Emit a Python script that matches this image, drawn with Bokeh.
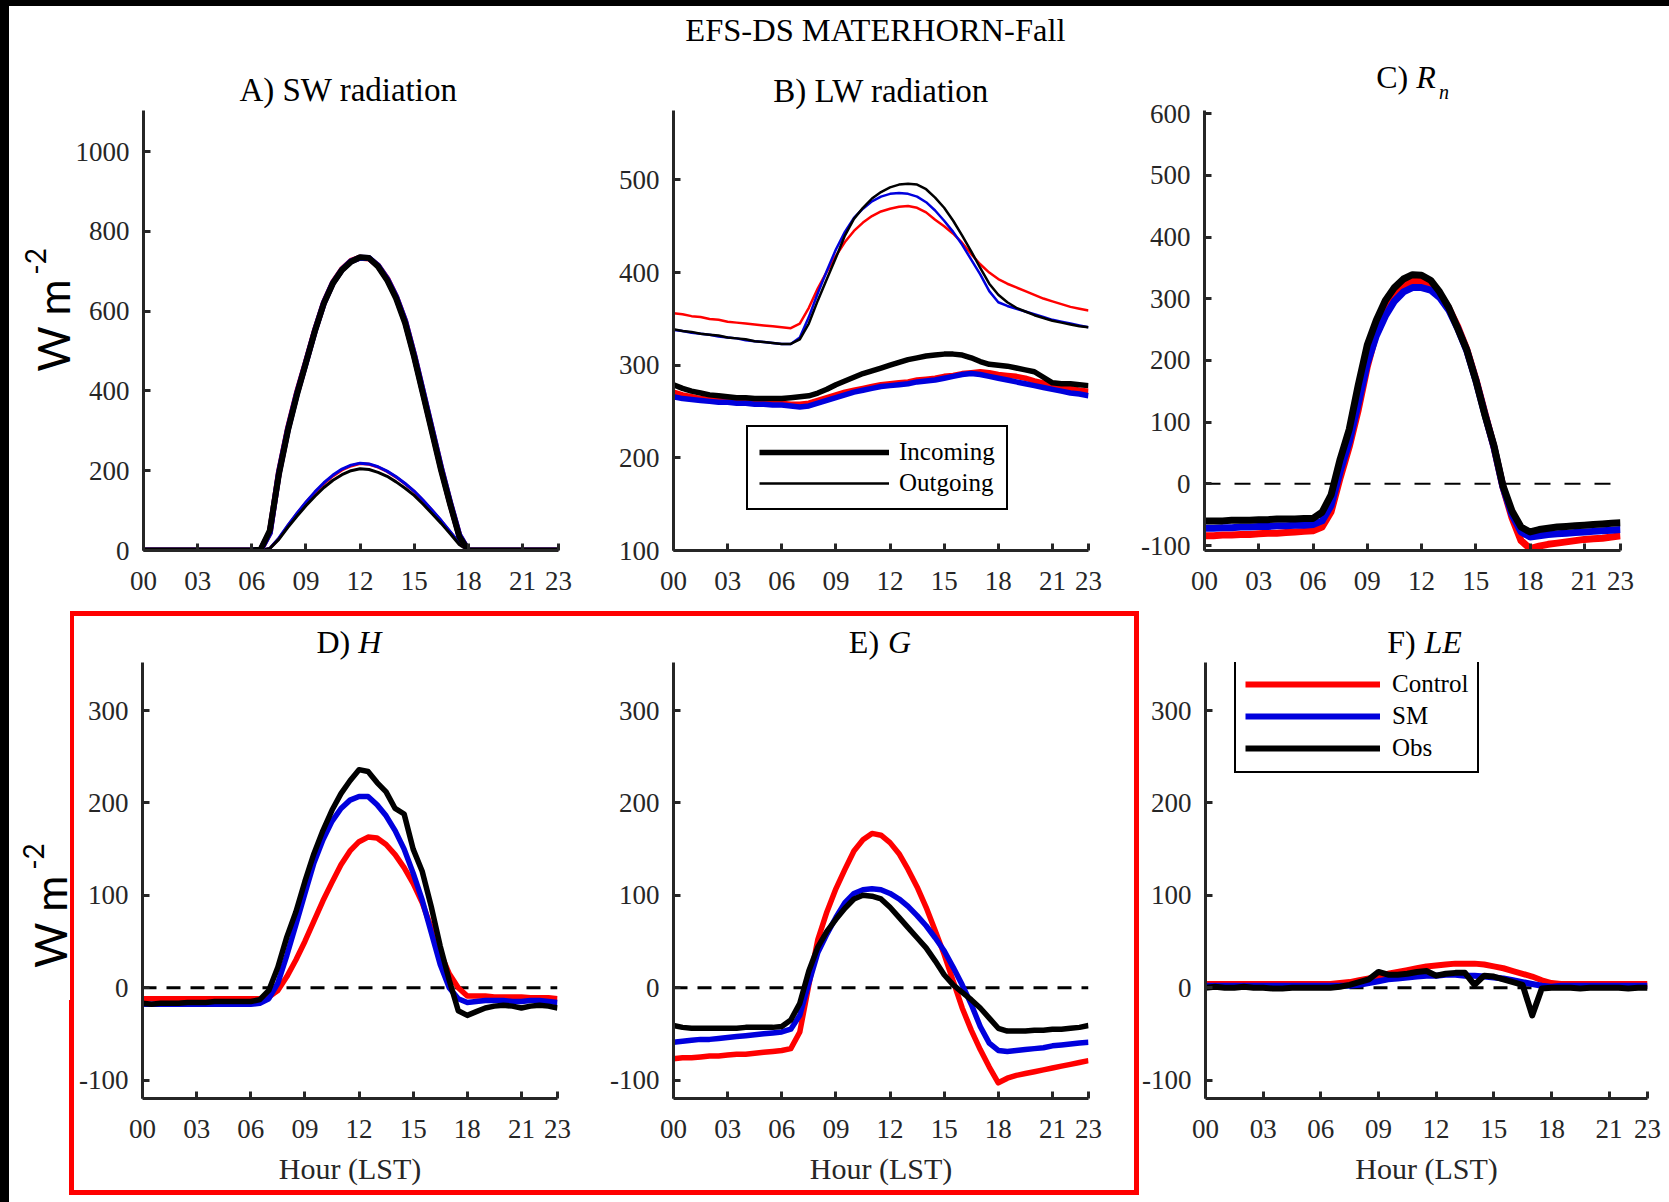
import math

from bokeh.core.properties import value
from bokeh.embed import file_html
from bokeh.layouts import column, row
from bokeh.models import (Div, FixedTicker, Legend, LegendItem,
                          PrintfTickFormatter, Range1d, Span)
from bokeh.plotting import figure
from bokeh.resources import INLINE

# ---------------------------------------------------------------------------
# Mean diurnal cycles, half-hourly from 00 to 23 LST (W m-2)
# ---------------------------------------------------------------------------
HOURS = [i / 2 for i in range(47)]
X_TICKS = [0, 3, 6, 9, 12, 15, 18, 21, 23]

# A) shortwave radiation: incoming (thick) and outgoing (thin)
SW_IN_CONTROL = [0] * 13 + [2, 45, 195, 305, 395, 472, 552, 622, 672, 705, 726, 734, 732, 714, 682,
                            636, 575, 490, 395, 300, 205, 118, 38, 0] + [0] * 10
SW_IN_SM = [0] * 13 + [2, 44, 194, 303, 393, 471, 551, 621, 671, 704, 725, 734, 733, 714, 681,
                       636, 575, 490, 396, 301, 206, 119, 39, 0] + [0] * 10
SW_IN_OBS = [0] * 13 + [3, 50, 190, 300, 390, 470, 550, 620, 670, 703, 724, 735, 733, 712, 678,
                        632, 570, 485, 390, 295, 200, 115, 35, 0] + [0] * 10
SW_OUT_CONTROL = [0] * 14 + [5, 30, 62, 92, 120, 145, 168, 187, 202, 212, 218, 216, 209, 198, 184,
                             167, 148, 125, 100, 74, 46, 18, 0] + [0] * 10
SW_OUT_SM = [0] * 14 + [5, 31, 63, 93, 121, 147, 170, 189, 204, 214, 219, 217, 210, 199, 185,
                        168, 149, 126, 101, 75, 47, 19, 0] + [0] * 10
SW_OUT_OBS = [0] * 14 + [5, 28, 58, 86, 112, 136, 158, 176, 190, 200, 205, 203, 196, 186, 172,
                         156, 138, 116, 92, 68, 42, 15, 0] + [0] * 10

# B) longwave radiation
LW_OUT_CONTROL = [356, 355, 353, 352, 350, 349, 347, 346, 345, 344, 343, 342, 341, 340,
                  345, 362, 383, 401, 418, 433, 445, 454, 461, 466, 469, 471, 472, 470, 465, 457,
                  450, 442, 432, 420, 409, 400, 393, 388, 384, 380, 376, 372, 369, 366, 363, 361, 359]
LW_OUT_SM = [338, 337, 335, 334, 333, 331, 330, 329, 327, 326, 325, 324, 323, 323,
             330, 352, 378, 402, 425, 444, 459, 469, 477, 482, 485, 486, 485, 482, 476, 467,
             456, 444, 430, 414, 398, 380, 368, 364, 361, 358, 355, 352, 349, 347, 345, 343, 341]
LW_OUT_OBS = [339, 337, 336, 334, 333, 332, 330, 329, 328, 326, 325, 324, 323, 323,
              328, 345, 370, 393, 416, 440, 458, 470, 480, 487, 492, 495, 496, 495, 490, 481,
              470, 456, 440, 423, 405, 388, 376, 368, 362, 358, 354, 351, 348, 346, 344, 342, 341]
LW_IN_CONTROL = [271, 268, 266, 264, 263, 262, 262, 261, 261, 260, 260, 259, 259, 258,
                 258, 259, 262, 265, 268, 271, 273, 275, 277, 279, 280, 281, 282, 284, 285, 286,
                 288, 289, 291, 292, 293, 292, 290, 289, 288, 286, 283, 281, 279, 277, 275, 273, 272]
LW_IN_SM = [266, 264, 263, 262, 261, 260, 260, 259, 259, 258, 258, 257, 257, 256,
            255, 256, 259, 262, 265, 268, 271, 273, 275, 277, 278, 279, 280, 282, 283, 284,
            286, 288, 290, 291, 290, 288, 286, 284, 282, 280, 278, 276, 274, 272, 270, 269, 267]
LW_IN_OBS = [279, 275, 272, 270, 268, 267, 266, 265, 265, 264, 264, 264, 264, 265,
             266, 267, 270, 274, 279, 283, 287, 291, 294, 297, 300, 303, 306, 308, 310, 311,
             312, 312, 311, 308, 304, 301, 300, 299, 297, 295, 293, 287, 281, 280, 280, 279, 278]

# C) net radiation
RN_CONTROL = [-84, -84, -83, -83, -82, -82, -81, -80, -80, -79, -78, -77, -76, -70,
              -45, 10, 60, 120, 190, 245, 283, 308, 322, 328, 328, 322, 308, 285, 255, 218,
              170, 115, 60, -5, -55, -92, -105, -101, -98, -96, -94, -92, -90, -89, -88, -86, -84]
RN_SM = [-72, -72, -71, -71, -70, -70, -69, -69, -68, -68, -67, -67, -66, -60,
         -35, 20, 68, 130, 195, 240, 272, 296, 311, 318, 318, 314, 302, 282, 252, 216,
         168, 113, 60, -5, -50, -78, -86, -84, -82, -81, -80, -79, -78, -77, -76, -75, -74]
RN_OBS = [-60, -60, -60, -59, -59, -59, -58, -58, -57, -57, -57, -56, -56, -46,
          -18, 40, 88, 160, 225, 265, 297, 318, 332, 339, 338, 330, 311, 286, 252, 217,
          168, 112, 62, -3, -44, -70, -78, -74, -72, -70, -69, -68, -67, -66, -65, -64, -63]

# D) sensible heat flux
H_CONTROL = [-12] * 14 + [-10, -3, 12, 30, 50, 72, 94, 114, 133, 148, 158, 163, 162, 155, 144, 130,
                          113, 92, 65, 38, 15, 0, -9, -9, -9, -10, -10, -10, -10, -11, -11, -11, -12]
H_SM = [-18] * 13 + [-17, -12, 5, 35, 68, 102, 135, 160, 180, 194, 203, 207, 207, 198, 186, 170, 150,
                     124, 95, 60, 25, 0, -12, -16, -15, -14, -14, -14, -15, -15, -14, -14, -15, -16]
H_OBS = [-17, -18, -17, -17, -17, -16, -16, -16, -15, -15, -15, -15, -15, -13,
         -3, 22, 55, 82, 115, 145, 170, 192, 210, 224, 236, 234, 222, 212, 194, 188,
         150, 126, 88, 45, 8, -25, -30, -26, -22, -20, -19, -20, -22, -20, -19, -20, -22]

# E) ground heat flux
G_CONTROL = [-77, -76, -76, -75, -74, -74, -73, -72, -72, -71, -70, -69, -68, -66,
             -48, 3, 52, 82, 107, 128, 148, 160, 167, 165, 157, 145, 128, 109, 87, 62,
             36, 7, -22, -46, -67, -86, -103, -98, -95, -93, -91, -89, -87, -85, -83, -81, -79]
G_SM = [-59, -58, -57, -56, -56, -55, -54, -53, -52, -51, -50, -49, -48, -45,
        -30, 5, 38, 58, 76, 92, 102, 106, 107, 106, 102, 96, 88, 78, 67, 54,
        40, 22, 3, -18, -42, -60, -68, -69, -68, -67, -66, -65, -63, -62, -61, -60, -59]
G_OBS = [-41, -43, -44, -44, -44, -44, -44, -44, -43, -43, -43, -43, -42, -35,
         -17, 18, 44, 61, 74, 86, 96, 100, 99, 96, 87, 76, 65, 54, 43, 29,
         14, 3, -5, -13, -22, -33, -44, -47, -47, -47, -46, -46, -45, -45, -44, -43, -41]

# F) latent heat flux
LE_CONTROL = [4] * 14 + [5, 6, 8, 10, 12, 15, 17, 19, 21, 23, 24, 25, 26, 26, 26, 25,
                         23, 21, 18, 15, 12, 8, 5, 4, 4, 4, 4, 4, 4, 4, 4, 4, 4]
LE_SM = [2] * 14 + [2, 2, 3, 5, 7, 9, 10, 11, 12, 13, 13, 14, 14, 13, 13, 12,
                    11, 10, 8, 6, 4, 2, 1, 2, 2, 2, 2, 2, 2, 2, 2, 2, 2]
LE_OBS = [0, 1, 0, 0, 1, 0, 0, -1, -1, 0, 0, 0, 0, 0,
          1, 3, 6, 9, 17, 14, 14, 15, 17, 18, 13, 15, 16, 16, 3, 13,
          12, 9, 6, 3, -30, -1, 0, 0, 0, -1, 0, 0, 0, 0, -1, 0, 0]

SERIES_NAMES = ["Control", "SM", "Obs"]

# ---------------------------------------------------------------------------
# Styling
# ---------------------------------------------------------------------------
SERIF = "Liberation Serif"
SANS = "Lato"
AXIS_COLOR = "#262626"
COLORS = ["#ff0000", "#0000dd", "#000000"]
RED_FRAME = "#ff0000"
UP = math.pi / 2


def panel(width, height, borders, y_range, y_ticks, xlabel=None, y_standoff=14):
    left, right, top, bottom = borders
    p = figure(width=width, height=height, output_backend="svg", toolbar_location=None,
               x_range=Range1d(0, 23), y_range=Range1d(*y_range),
               min_border_left=left, min_border_right=right,
               min_border_top=top, min_border_bottom=bottom,
               outline_line_color=None, background_fill_color="white",
               border_fill_color="white")
    p.xgrid.visible = False
    p.ygrid.visible = False
    p.xaxis.ticker = FixedTicker(ticks=X_TICKS)
    p.xaxis.formatter = PrintfTickFormatter(format="%02d")
    p.yaxis.ticker = FixedTicker(ticks=y_ticks)
    p.yaxis.formatter = PrintfTickFormatter(format="%d")
    for ax in (p.xaxis[0], p.yaxis[0]):
        ax.axis_line_color = AXIS_COLOR
        ax.axis_line_width = 3
        ax.major_tick_line_color = AXIS_COLOR
        ax.major_tick_line_width = 3
        ax.major_tick_in = 7
        ax.major_tick_out = 0
        ax.minor_tick_line_color = None
        ax.major_label_text_font = SERIF
        ax.major_label_text_font_size = "27px"
        ax.major_label_text_color = AXIS_COLOR
    p.xaxis[0].major_label_standoff = 21
    p.yaxis[0].major_label_standoff = y_standoff
    if xlabel:
        p.xaxis[0].axis_label = xlabel
        p.xaxis[0].axis_label_text_font = SERIF
        p.xaxis[0].axis_label_text_font_size = "30px"
        p.xaxis[0].axis_label_text_font_style = "normal"
        p.xaxis[0].axis_label_text_color = AXIS_COLOR
        p.xaxis[0].axis_label_standoff = 11
    return p


def text_box(width, height):
    """A bare canvas whose data units are pixels, holding titles and unit labels."""
    p = figure(width=width, height=height, output_backend="svg", toolbar_location=None,
               x_range=Range1d(0, width), y_range=Range1d(0, height),
               x_axis_location=None, y_axis_location=None,
               min_border_left=0, min_border_right=0, min_border_top=0, min_border_bottom=0,
               outline_line_color=None, background_fill_color="white",
               border_fill_color="white")
    p.xgrid.visible = False
    p.ygrid.visible = False
    return p


def put_text(p, x, y, s, size, font=SERIF, style="normal", angle=0.0):
    """Text centred on (x, y)."""
    p.text(x=[x], y=[y], text=[s], text_font=value(font), text_font_size=value(f"{size}px"),
           text_font_style=value(style), text_align=value("center"),
           text_baseline=value("middle"), angle=angle, text_color="#000000")


def lines(p, series, width):
    return [p.line(HOURS, ys, line_color=c, line_width=width, line_join="round")
            for ys, c in zip(series, COLORS)]


def zero_line(p, width, dash):
    p.add_layout(Span(location=0, dimension="width", line_color="#000000",
                      line_width=width, line_dash=dash, level="underlay"))


def style_legend(leg, glyph_width, padding, spacing, standoff):
    leg.label_text_font = SERIF
    leg.label_text_font_size = "25px"
    leg.label_text_color = "#000000"
    leg.glyph_width = glyph_width
    leg.glyph_height = 28
    leg.label_height = 28
    leg.label_standoff = standoff
    leg.spacing = spacing
    leg.padding = padding
    leg.margin = 0
    leg.border_line_color = "#000000"
    leg.border_line_alpha = 1.0
    leg.border_line_width = 2
    leg.background_fill_color = "white"
    leg.background_fill_alpha = 1.0


def block(w, h, background):
    return Div(text="", width=w, height=h, margin=0, styles={"background": background})


# ---------------------------------------------------------------------------
# Top row: A, B, C
# ---------------------------------------------------------------------------
head_a = text_box(586, 103)
put_text(head_a, 339, 19.3, "A) SW radiation", 33)
unit_a = text_box(63, 496)
put_text(unit_a, 43.5, 254, "W m", 44, font=SANS, angle=UP)
put_text(unit_a, 26, 326, "-2", 28, font=SANS, angle=UP)

pa = panel(523, 496, (69, 37, 1, 55), (0, 1103), [0, 200, 400, 600, 800, 1000])
lines(pa, [SW_OUT_CONTROL, SW_OUT_SM, SW_OUT_OBS], 3)
lines(pa, [SW_IN_CONTROL, SW_IN_SM, SW_IN_OBS], 6)

head_b = text_box(520, 103)
put_text(head_b, 253, 79.8, "EFS-DS MATERHORN-Fall", 32.5)
put_text(head_b, 260, 19, "B) LW radiation", 33)

pb = panel(520, 496, (78, 27, 1, 55), (100, 575), [100, 200, 300, 400, 500])
out_b = lines(pb, [LW_OUT_CONTROL, LW_OUT_SM, LW_OUT_OBS], 2.5)
in_b = lines(pb, [LW_IN_CONTROL, LW_IN_SM, LW_IN_OBS], 5.5)
leg_b = Legend(items=[LegendItem(label="Incoming", renderers=[in_b[2]]),
                      LegendItem(label="Outgoing", renderers=[out_b[2]])],
               location=(73, 40))
style_legend(leg_b, 130, 11, 3, 10)
pb.add_layout(leg_b)

head_c = text_box(554, 97)
put_text(head_c, 250, 26.4, "C)", 32)
put_text(head_c, 295, 26.4, "R", 32, style="italic")
put_text(head_c, 319, 11.5, "n", 20, style="italic")

pc = panel(554, 502, (89, 49, 7, 55), (-108, 605), [-100, 0, 100, 200, 300, 400, 500, 600])
zero_line(pc, 2, "16 14")
lines(pc, [RN_CONTROL, RN_SM, RN_OBS], 7)

# ---------------------------------------------------------------------------
# Bottom row: D, E (inside the red frame) and F
# ---------------------------------------------------------------------------
FLUX_TICKS = [-100, 0, 100, 200, 300]
FLUX_RANGE = (-120, 352)

head_d = text_box(522, 44)
put_text(head_d, 240, 19, "D)", 32)
put_text(head_d, 286, 19, "H", 32, style="italic")
pd_ = panel(522, 530, (65, 41, 2, 92), FLUX_RANGE, FLUX_TICKS, xlabel="Hour (LST)")
zero_line(pd_, 3, "14 10")
lines(pd_, [H_CONTROL, H_SM, H_OBS], 5.5)

head_e = text_box(536, 44)
put_text(head_e, 246, 19, "E)", 32)
put_text(head_e, 292, 19, "G", 32, style="italic")
pe = panel(536, 530, (75, 46, 2, 92), FLUX_RANGE, FLUX_TICKS, xlabel="Hour (LST)")
zero_line(pe, 3, "14 10")
lines(pe, [G_CONTROL, G_SM, G_OBS], 5.5)

head_f = text_box(530, 55)
put_text(head_f, 235, 19, "F)", 32)
put_text(head_f, 285, 19, "LE", 32, style="italic")
pf = panel(530, 542, (64, 22, 2, 104), FLUX_RANGE, FLUX_TICKS, xlabel="Hour (LST)")
zero_line(pf, 3, "14 10")
rf = lines(pf, [LE_CONTROL, LE_SM, LE_OBS], 6)
leg_f = Legend(items=[LegendItem(label=n, renderers=[r]) for n, r in zip(SERIES_NAMES, rf)],
               location=(29, 325))
style_legend(leg_f, 135, 9, 4, 12)
pf.add_layout(leg_f)

unit_d = text_box(60, 597)
put_text(unit_d, 40.5, 281, "W m", 44, font=SANS, angle=UP)
put_text(unit_d, 23.5, 346, "-2", 28, font=SANS, angle=UP)

# Red highlight frame around panels D and E (its left side steps out below the unit label)
RED_UPPER = f"linear-gradient(to right, white 0 1px, {RED_FRAME} 1px 5px, white 5px 100%)"
RED_LOWER = f"linear-gradient(to right, {RED_FRAME} 0 5px, white 5px 100%)"
RED_TOP = f"linear-gradient(to right, white 0 1px, {RED_FRAME} 1px 100%)"
left_edge = column(block(7, 384, RED_UPPER), block(7, 190, RED_LOWER))
framed = column(
    block(1070, 6, "white"),
    block(1070, 5, RED_TOP),
    row(left_edge, column(head_d, pd_), column(head_e, pe), block(5, 574, RED_FRAME)),
    block(1070, 5, RED_FRAME),
    block(1070, 7, "white"),
)

page = row(
    block(9, 1202, "black"),
    column(
        block(1660, 6, "black"),
        row(column(head_a, row(unit_a, pa)), column(head_b, pb), column(head_c, pc)),
        row(unit_d, framed, column(head_f, pf)),
    ),
)

with open("out.html", "w") as fh:
    fh.write(file_html(page, INLINE, title="EFS-DS MATERHORN-Fall"))
